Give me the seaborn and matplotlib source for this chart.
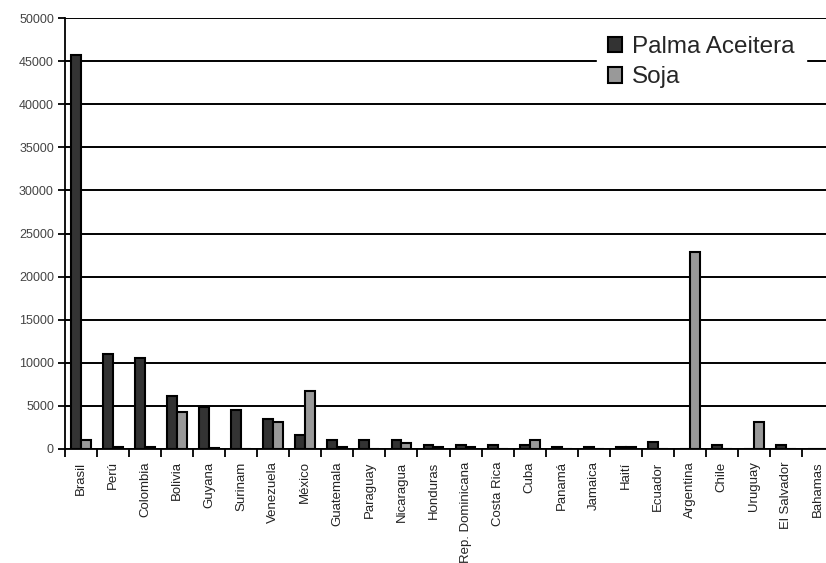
import numpy as np
import pandas as pd
import matplotlib
matplotlib.use("Agg")
import matplotlib.pyplot as plt
import seaborn as sns

paises = ["Brasil", "Perú", "Colombia", "Bolivia", "Guyana", "Surinam", "Venezuela",
          "México", "Guatemala", "Paraguay", "Nicaragua", "Honduras", "Rep. Dominicana",
          "Costa Rica", "Cuba", "Panamá", "Jamaica", "Haití", "Ecuador", "Argentina",
          "Chile", "Uruguay", "El Salvador", "Bahamas"]
palma = [45700, 11000, 10500, 6200, 4900, 4500, 3500, 1600, 1000, 1000, 1000, 500, 500,
         500, 500, 250, 250, 200, 800, 0, 500, 0, 500, 0]
soja = [1000, 200, 200, 4300, 150, 0, 3100, 6700, 250, 0, 750, 200, 250,
        0, 1000, 0, 0, 200, 0, 22800, 0, 3100, 0, 0]
series = ["Palma Aceitera", "Soja"]
yticks = [0, 5000, 10000, 15000, 20000, 25000, 30000, 35000, 40000, 45000, 50000]

df = pd.DataFrame({"País": paises * 2,
                   "Valor": palma + soja,
                   "Serie": [series[0]] * len(paises) + [series[1]] * len(paises)})

sns.set_style("white")
plt.rcParams['font.family'] = ['Liberation Sans', 'DejaVu Sans']

fig = plt.figure(figsize=(8.26, 5.63), dpi=100)
ax = fig.add_axes([0.0787, 0.2025, 0.9213, 0.7655])

sns.barplot(data=df, x="País", y="Valor", hue="Serie", order=paises, hue_order=series,
            palette=["#333333", "#999999"], width=0.62, edgecolor="black", linewidth=1.5,
            saturation=1, ax=ax, legend=True)

ax.set_yticks(yticks)
ax.set_yticklabels([str(v) for v in yticks], fontsize=9, color="#444444")
ax.yaxis.grid(True, color="black", linewidth=1.4)
ax.set_axisbelow(True)
ax.set_xlabel("")
ax.set_ylabel("")

ax.set_xticks(range(len(paises)))
ax.set_xticklabels(paises, rotation=90, fontsize=9.5, color="#222222")
ax.tick_params(axis="x", which="major", length=0, pad=9)
ax.set_xticks(np.arange(-0.5, len(paises), 1), minor=True)
ax.tick_params(axis="x", which="minor", length=6, width=1.3, color="black", direction="out", bottom=True)
ax.tick_params(axis="y", length=5, width=1.3, color="black", direction="out", left=True, pad=3)

ax.set_ylim(0, 50000)
ax.set_xlim(-0.5, 23.25)

for s in ["top", "right"]:
    ax.spines[s].set_visible(False)
for s in ["left", "bottom"]:
    ax.spines[s].set_color("black")
    ax.spines[s].set_linewidth(1.3)

leg = ax.legend(loc="upper left", bbox_to_anchor=(0.699, 0.984), fontsize=17.5,
                frameon=True, fancybox=False, handlelength=0.6, handleheight=0.6,
                handletextpad=0.4, labelspacing=0.35, borderpad=0.45, borderaxespad=0)
leg.get_frame().set_edgecolor("white")
leg.get_frame().set_facecolor("white")
leg.get_frame().set_alpha(1)

fig.savefig("out.png", dpi=100)
